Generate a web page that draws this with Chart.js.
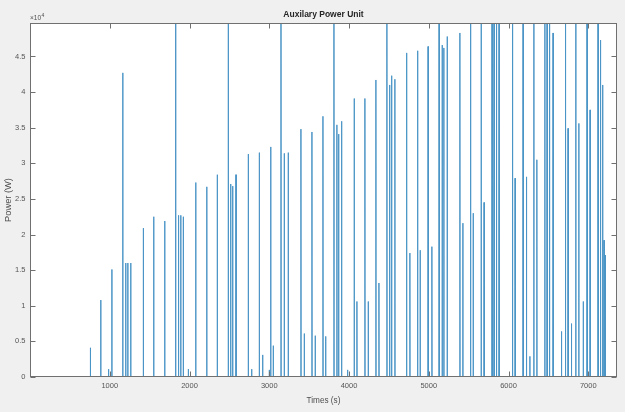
<!DOCTYPE html>
<html>
<head>
<meta charset="utf-8">
<title>Auxilary Power Unit</title>
<script src="https://cdn.jsdelivr.net/npm/chart.js@4.4.1/dist/chart.umd.min.js"></script>
<style>
  html, body { margin: 0; padding: 0; background: #f0f0f0; }
  canvas { display: block; }
</style>
</head>
<body>
<canvas id="apu" width="625" height="412"></canvas>
<script>
// --- Data: APU power spikes (time in s, peak in W) ---
const spikeTimes = [
  757, 887, 985, 1026, 1163, 1200, 1226, 1263, 1421, 1551, 1689,
  1826, 1862, 1890, 1922, 1985, 2078, 2216, 2348,
  2486, 2516, 2541, 2583, 2737, 2779, 2875, 2917, 3000, 3018, 3050,
  3147, 3188, 3238, 3397, 3439, 3535, 3576, 3673, 3707,
  3811, 3848, 3870, 3907, 3982, 4065, 4099, 4199, 4241, 4337, 4375,
  4475, 4509, 4534, 4575, 4722, 4763, 4860, 4892, 4992, 5039,
  5130, 5168, 5189, 5231, 5390, 5427, 5524, 5557, 5657, 5694,
  5794, 5819, 5849, 5882, 6050, 6083, 6183, 6225, 6267, 6317, 6355,
  6455, 6484, 6514, 6559, 6664, 6714, 6747, 6789, 6843, 6881, 6937,
  6985, 7023, 7123, 7153, 7180, 7198, 7215
];
const spikePeaks = [
  4100, 10800, 1100, 15100, 42700, 16000, 16000, 16000, 20900, 22500, 21900,
  49700, 22700, 22700, 22500, 1100, 27300, 26700, 28400,
  49700, 27100, 26800, 28400, 31300, 1100, 31500, 3100, 1000, 32300, 4400,
  49700, 31400, 31500, 34800, 6100, 34400, 5800, 36600, 5700,
  49700, 35400, 34100, 35900, 1000, 39100, 10600, 39100, 10600, 41700, 13200,
  49700, 41000, 42300, 41800, 45500, 17400, 45800, 17800, 46400, 18300,
  49700, 46600, 46200, 47800, 48300, 21600, 49700, 23000, 49700, 24500,
  49700, 49700, 49700, 49700, 49700, 27900, 49700, 28100, 2900, 49700, 30500,
  49700, 49700, 49700, 48300, 6400, 49700, 34900, 7500, 49700, 35600, 10600,
  49700, 37500, 49700, 47300, 41000, 19200, 17100
];
const traceEnd = 7232;

// --- Axes ---
const xTicks = [1000, 2000, 3000, 4000, 5000, 6000, 7000];
const yTicks = [0, 5000, 10000, 15000, 20000, 25000, 30000, 35000, 40000, 45000];
const xMax = 7360;
const yMax = 49700;

// each spike: flat zero, straight up to the peak, straight back down
const trace = [{ x: 0, y: 0 }];
spikeTimes.forEach((t, i) => {
    trace.push({ x: t - 2, y: 0 }, { x: t, y: spikePeaks[i] }, { x: t + 2, y: 0 });
});
trace.push({ x: traceEnd, y: 0 });

const FONT = "'Liberation Sans', Arial, Helvetica, sans-serif";

// grey figure background, white axes, box outline with inward ticks, titles
const matlabFrame = {
    id: 'matlabFrame',
    beforeDraw(chart) {
        const { ctx, chartArea: a } = chart;
        ctx.save();
        ctx.fillStyle = '#f0f0f0';
        ctx.fillRect(0, 0, chart.width, chart.height);
        ctx.fillStyle = '#ffffff';
        ctx.fillRect(a.left, a.top, a.right - a.left, a.bottom - a.top);
        ctx.restore();
    },
    afterDraw(chart) {
        const { ctx, chartArea: a, scales: { x, y } } = chart;
        const L = Math.round(a.left) + 0.5, R = Math.round(a.right) - 0.5;
        const T = Math.round(a.top) + 0.5, B = Math.round(a.bottom) - 0.5;
        ctx.save();
        ctx.strokeStyle = '#707070';
        ctx.lineWidth = 1;
        ctx.strokeRect(L, T, R - L, B - T);

        ctx.beginPath();
        xTicks.forEach(v => {
            const px = Math.round(x.getPixelForValue(v)) + 0.5;
            ctx.moveTo(px, B); ctx.lineTo(px, B - 5);
            ctx.moveTo(px, T); ctx.lineTo(px, T + 5);
        });
        yTicks.forEach(v => {
            const py = Math.round(y.getPixelForValue(v)) + 0.5;
            ctx.moveTo(L, py); ctx.lineTo(L + 5, py);
            ctx.moveTo(R, py); ctx.lineTo(R - 5, py);
        });
        ctx.stroke();

        // title
        ctx.fillStyle = '#262626';
        ctx.textAlign = 'center';
        ctx.textBaseline = 'middle';
        ctx.font = 'bold 8.5px ' + FONT;
        ctx.fillText('Auxilary Power Unit', (a.left + a.right) / 2, 15);

        // axis labels
        ctx.fillStyle = '#4d4d4d';
        ctx.font = '8.2px ' + FONT;
        ctx.fillText('Times (s)', (a.left + a.right) / 2, 401);
        ctx.save();
        ctx.translate(8.5, (a.top + a.bottom) / 2);
        ctx.rotate(-Math.PI / 2);
        ctx.font = '9.3px ' + FONT;
        ctx.fillText('Power (W)', 0, 0);
        ctx.restore();

        // exponent marker
        ctx.textAlign = 'left';
        ctx.textBaseline = 'alphabetic';
        ctx.font = '6.5px ' + FONT;
        ctx.fillText('\u00d710', a.left, 20);
        const w = ctx.measureText('\u00d710').width;
        ctx.font = '5px ' + FONT;
        ctx.fillText('4', a.left + w + 0.5, 16.5);
        ctx.restore();
    }
};

new Chart(document.getElementById('apu'), {
    type: 'line',
    data: {
        datasets: [{
            data: trace,
            borderColor: '#4a94c6',
            borderWidth: 1,
            pointRadius: 0,
            tension: 0,
            fill: false
        }]
    },
    options: {
        responsive: false,
        animation: false,
        events: [],
        layout: { padding: { top: 23, right: 8, bottom: 0, left: 0 } },
        plugins: { legend: { display: false }, tooltip: { enabled: false } },
        scales: {
            x: {
                type: 'linear',
                min: 0,
                max: xMax,
                grid: { display: false, drawTicks: false },
                border: { display: false },
                afterBuildTicks: s => { s.ticks = xTicks.map(v => ({ value: v })); },
                afterFit: s => { s.height = 35; },
                ticks: {
                    padding: 4.5,
                    maxRotation: 0,
                    color: '#555',
                    font: { family: FONT, size: 7.5 },
                    callback: v => String(v)
                }
            },
            y: {
                type: 'linear',
                min: 0,
                max: yMax,
                grid: { display: false, drawTicks: false },
                border: { display: false },
                afterBuildTicks: s => { s.ticks = yTicks.map(v => ({ value: v })); },
                afterFit: s => { s.width = 30; },
                ticks: {
                    padding: 4.5,
                    color: '#555',
                    font: { family: FONT, size: 7.5 },
                    callback: v => String(v / 10000)
                }
            }
        }
    },
    plugins: [matlabFrame]
});
</script>
</body>
</html>
